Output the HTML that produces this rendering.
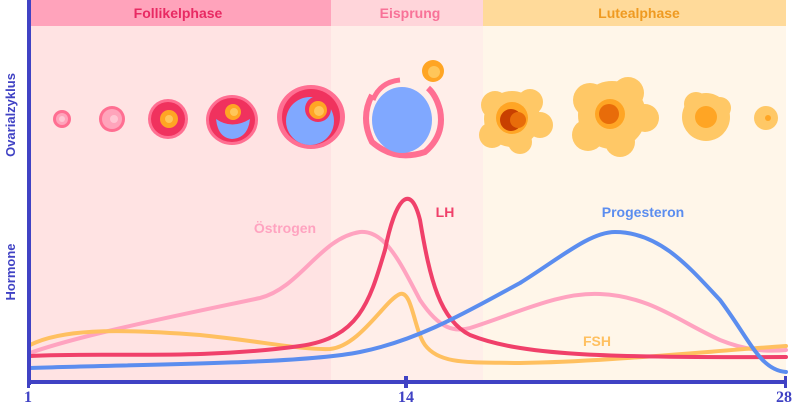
<!DOCTYPE html>
<html><head><meta charset="utf-8"><style>
html,body{margin:0;padding:0;background:#fff}
svg{display:block}
text{font-family:"Liberation Sans",sans-serif;font-weight:bold}
</style></head><body>
<svg width="800" height="403" viewBox="0 0 800 403" xmlns="http://www.w3.org/2000/svg">
<rect x="30" y="0" width="301" height="382" fill="#ffe3e3"/>
<rect x="331" y="0" width="152" height="382" fill="#ffeee9"/>
<rect x="483" y="0" width="303" height="382" fill="#fff6e9"/>
<rect x="30" y="0" width="301" height="26" fill="#ffa3bb"/>
<rect x="331" y="0" width="152" height="26" fill="#ffd5da"/>
<rect x="483" y="0" width="303" height="26" fill="#ffda9a"/>
<text x="178" y="18" font-size="14" fill="#e82a63" text-anchor="middle">Follikelphase</text>
<text x="410" y="18" font-size="14" fill="#f87298" text-anchor="middle">Eisprung</text>
<text x="639" y="18" font-size="14" fill="#ef9a21" text-anchor="middle">Lutealphase</text>

<!-- follicles -->
<circle cx="62" cy="119" r="9" fill="#ff6f92"/><circle cx="62" cy="119" r="6" fill="#ffa4bb"/><circle cx="62" cy="119" r="3" fill="#ffc6d3"/>
<circle cx="112" cy="119" r="13" fill="#ff6f92"/><circle cx="112" cy="119" r="10" fill="#ffa4bb"/><circle cx="114" cy="119" r="4" fill="#ffc6d3"/>
<circle cx="168" cy="119" r="20" fill="#ff6f92"/><circle cx="168" cy="119" r="17" fill="#f0325e"/><circle cx="169" cy="119" r="9" fill="#ffa524"/><circle cx="169" cy="119" r="4" fill="#ffc65a"/>
<ellipse cx="232" cy="120" rx="26" ry="25" fill="#ff6f92"/><ellipse cx="232" cy="120" rx="23" ry="22" fill="#f0325e"/><path d="M216 119 Q232 130 250 119 Q248 138 232 139 Q218 138 216 119Z" fill="#80a8ff"/><circle cx="233" cy="112" r="8" fill="#ffa524"/><circle cx="234" cy="112" r="4" fill="#ffc65a"/>
<ellipse cx="311" cy="117" rx="34" ry="32" fill="#ff6f92"/><ellipse cx="311" cy="117" rx="29" ry="28" fill="#f0325e"/><circle cx="310" cy="121" r="24" fill="#80a8ff"/><circle cx="318" cy="109" r="13" fill="#f0325e"/><circle cx="318" cy="110" r="9" fill="#ffa524"/><circle cx="319" cy="111" r="5" fill="#ffc65a"/>
<path d="M372 95 Q360 118 372 142 Q395 162 425 152 Q445 135 440 110 Q436 95 428 88" fill="none" stroke="#ff6f92" stroke-width="6"/>
<ellipse cx="402" cy="120" rx="30" ry="33" fill="#80a8ff"/>
<path d="M373 100 Q380 82 400 80" fill="none" stroke="#ff6f92" stroke-width="5"/>
<circle cx="433" cy="71" r="11" fill="#ffa524"/><circle cx="434" cy="72" r="6" fill="#ffc65a"/>
<g fill="#ffc866">
<circle cx="512" cy="119" r="28"/><circle cx="495" cy="105" r="14"/><circle cx="530" cy="102" r="13"/><circle cx="540" cy="125" r="13"/><circle cx="520" cy="142" r="12"/><circle cx="492" cy="135" r="13"/>
<circle cx="612" cy="115" r="34"/><circle cx="590" cy="100" r="17"/><circle cx="628" cy="93" r="16"/><circle cx="645" cy="118" r="14"/><circle cx="620" cy="142" r="15"/><circle cx="588" cy="135" r="16"/>
<circle cx="706" cy="117" r="24"/><circle cx="696" cy="104" r="12"/><circle cx="720" cy="108" r="11"/>
<circle cx="766" cy="118" r="12"/>
</g>
<circle cx="512" cy="118" r="16" fill="#ffa524"/><circle cx="511" cy="120" r="11" fill="#c84000"/><circle cx="518" cy="120" r="8" fill="#e86c0a"/>
<circle cx="610" cy="114" r="15" fill="#ffa524"/><circle cx="609" cy="114" r="10" fill="#e86c0a"/>
<circle cx="706" cy="117" r="11" fill="#ffa524"/>
<circle cx="768" cy="118" r="3" fill="#ffa524"/>

<!-- curves -->
<g fill="none" stroke-width="4" stroke-linecap="round">
<path d="M30 353 C80 335 180 315 260 298 C300 288 320 238 360 232 C385 230 400 262 420 300 C440 330 455 332 470 328 C520 312 560 292 600 294 C650 296 680 322 720 340 C745 350 765 352 786 350" stroke="#ffa3c0"/>
<path d="M30 345 C60 330 110 328 200 335 C260 341 300 350 330 349 C360 346 385 300 400 294 C412 290 414 330 425 345 C440 365 470 362 520 363 C600 362 700 352 786 346" stroke="#ffc060"/>
<path d="M30 356 C100 352 200 360 300 346 C360 338 370 300 385 250 C395 200 410 180 420 220 C430 280 440 320 470 335 C520 355 600 358 786 357" stroke="#f0406a"/>
<path d="M30 368 C150 364 300 364 360 352 C420 340 470 310 520 283 C560 258 590 232 615 232 C660 232 690 268 720 300 C750 340 760 370 786 372" stroke="#5b8def"/>
</g>
<text x="285" y="233" font-size="14" fill="#ffa3c0" text-anchor="middle">Östrogen</text>
<text x="445" y="217" font-size="14" fill="#f0406a" text-anchor="middle">LH</text>
<text x="643" y="217" font-size="14" fill="#5b8def" text-anchor="middle">Progesteron</text>
<text x="597" y="346" font-size="14" fill="#ffc060" text-anchor="middle">FSH</text>

<!-- axes -->
<rect x="27" y="0" width="4" height="385" fill="#4042c4"/>
<rect x="27" y="380" width="760" height="4" fill="#4042c4"/>
<rect x="27" y="376" width="3" height="12" fill="#4042c4"/>
<rect x="404" y="376" width="4" height="12" fill="#4042c4"/>
<rect x="784" y="376" width="3" height="12" fill="#4042c4"/>
<g font-size="16" fill="#4042c4" text-anchor="middle">
<text x="28" y="402" style="font-family:'Liberation Serif',serif">1</text>
<text x="406" y="402" style="font-family:'Liberation Serif',serif">14</text>
<text x="784" y="402" style="font-family:'Liberation Serif',serif">28</text>
</g>
<text transform="translate(15,115) rotate(-90)" font-size="13" fill="#4042c4" text-anchor="middle">Ovarialzyklus</text>
<text transform="translate(15,272) rotate(-90)" font-size="13" fill="#4042c4" text-anchor="middle">Hormone</text>
</svg>
</body></html>
